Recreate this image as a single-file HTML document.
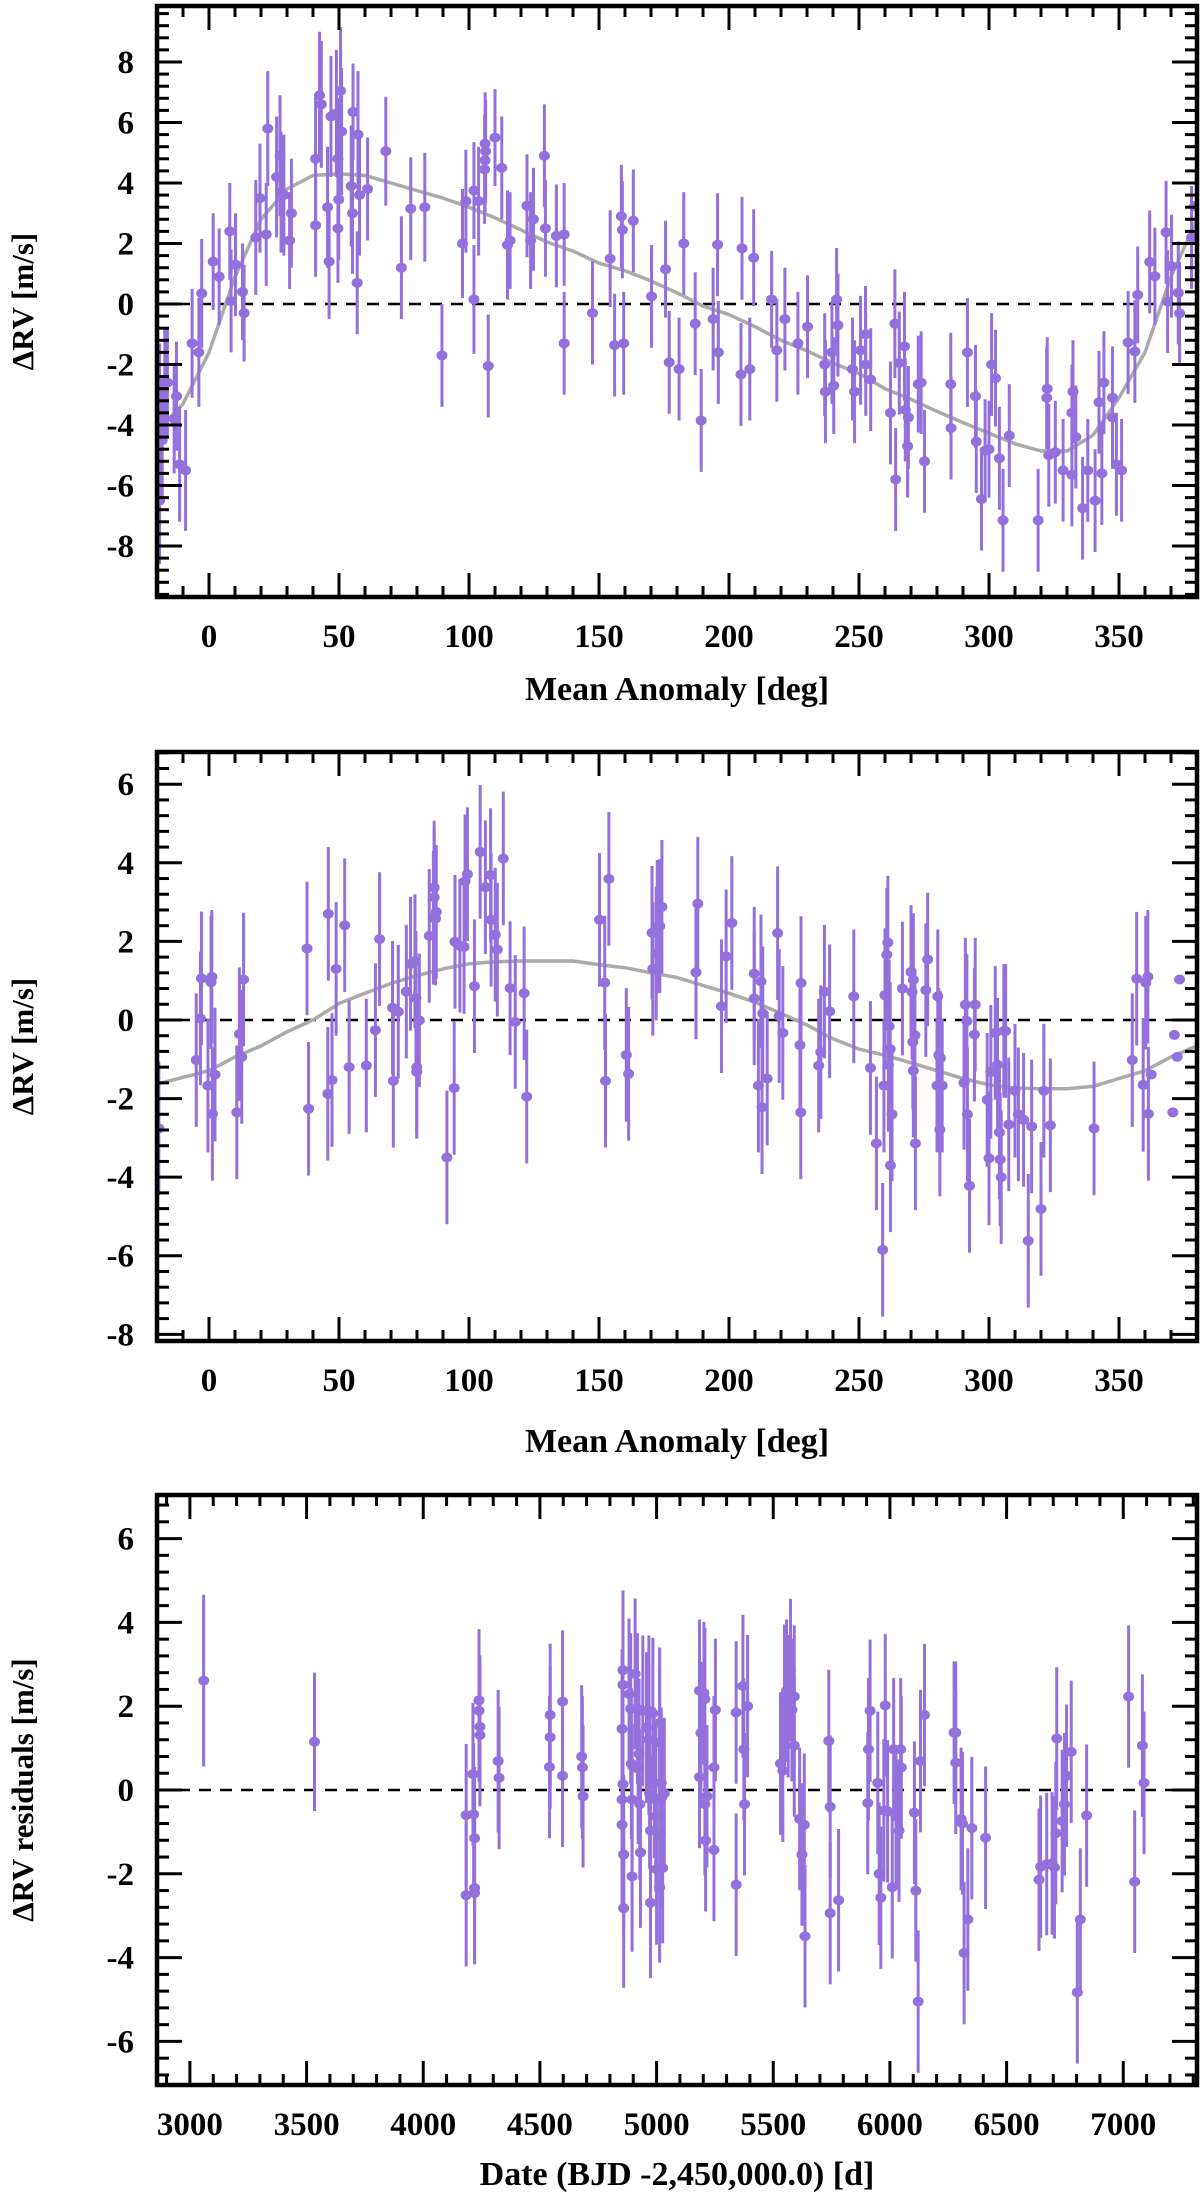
<!DOCTYPE html>
<html><head><meta charset="utf-8"><title>RV plots</title>
<style>
html,body{margin:0;padding:0;background:#fff;}
svg text{font-family:"Liberation Serif",serif;font-weight:bold;fill:#000;}
</style></head>
<body>
<svg id="fig" width="1200" height="2196" viewBox="0 0 1200 2196" xmlns="http://www.w3.org/2000/svg">
<rect x="0" y="0" width="1200" height="2196" fill="#fff"/>
</svg>
<script>
// ---- Panel 1 data: phase-folded RV (planet b) ----
const p1Phase = [-19,-18,-19,-17,-16,-12.5,-13.4,-11.3,-9,-6.5,-3.9,-2.8,1.6,3.9,8,8.5,10.2,12.9,13.5,18,19.6,22.6,22,26,27.3,27.7,28.8,31,31.7,41,41,42.5,43.2,45.6,46.2,46.9,49,49.6,49.9,49.6,50.6,51,54.7,55.2,55.4,57.3,57.9,57,61,68,74,77.6,83,89.6,97.5,98.8,101.9,101.9,103.7,106,106.2,106.4,106.2,107.4,110,112.6,114.8,115.8,122.3,123.7,124.8,129,129.4,133.6,136.6,136.6,147.5,154.3,156,158.6,159,159.5,163.2,170.2,175.6,177,180.8,182.6,187,189.3,193.9,195.6,195.9,204.6,205,208,209.5,216.4,218.4,221.5,226.5,230.2,236.8,237.1,239.6,240.3,241.4,241.9,247.5,248.3,250.6,252.5,252.6,254.5,262.1,263.8,264.1,265.5,267.5,267.8,269,268.7,272.8,273.9,275.2,285.3,285.4,291.7,294.8,295.1,297.1,298.5,300,301,302.5,304,305.4,307.8,318.9,322.2,322.4,323,325.5,328.5,331.9,331.9,332.3,333.4,336,338,340.8,342.3,343.4,344.2,347.5,347.5,349,351,353.5,356.1,357.2,361.8,363.8,368.1,368.7,370.2,372.8,373.3,377.9,379.1];
const p1Rv = [-3.2,-4.5,-6.5,-2.6,-2.6,-3.05,-3.8,-5.3,-5.5,-1.3,-1.6,0.35,1.4,0.9,2.4,0.1,1.3,0.4,-0.3,2.2,3.5,5.8,2.3,4.2,4.9,3.7,3.6,2.1,3.0,2.6,4.8,6.9,6.6,3.2,1.4,6.2,6.3,4.8,3.45,2.5,7.05,5.7,3.9,3.0,6.35,5.6,3.6,0.7,3.8,5.05,1.2,3.15,3.2,-1.7,2.0,3.4,0.15,3.75,3.4,4.45,4.75,5.05,5.3,-2.05,5.5,4.5,1.95,2.1,3.25,2.1,2.8,4.9,2.5,2.25,2.3,-1.3,-0.3,1.5,-1.36,2.9,2.45,-1.3,2.75,0.25,1.15,-1.93,-2.15,2.0,-0.65,-3.85,-0.5,1.96,-1.6,-2.33,1.84,-2.15,1.53,0.15,-1.53,-0.5,-1.3,-0.75,-2.0,-2.9,-1.6,-2.7,0.15,-0.7,-2.15,-2.9,-1.53,-1.0,-2.0,-2.5,-3.6,-0.65,-5.8,-1.95,-1.4,-3.5,-3.75,-4.7,-2.65,-2.6,-5.2,-2.65,-4.1,-1.6,-3.05,-4.55,-6.45,-4.85,-4.8,-2.0,-2.45,-5.1,-7.15,-4.35,-7.15,-3.1,-2.8,-5.0,-4.9,-5.5,-5.65,-3.6,-2.9,-4.4,-6.75,-5.5,-6.5,-3.25,-5.6,-2.6,-3.1,-3.75,-5.3,-5.5,-1.27,-1.57,0.3,1.39,0.92,2.37,0.08,1.25,0.37,-0.31,2.2,3.24];
const p1Err = [1.9,2.0,2.1,1.8,1.8,1.8,1.8,1.9,2.0,1.8,1.8,1.8,1.6,1.6,1.6,1.7,1.7,1.6,1.6,1.9,1.8,1.9,1.7,2.0,2.0,2.0,2.0,1.6,1.8,1.7,2.1,2.1,2.1,2.0,1.9,2.0,2.1,2.0,2.0,1.8,2.1,2.1,2.0,2.0,1.6,2.1,2.0,1.7,1.7,1.8,1.7,1.7,1.8,1.7,1.8,1.7,1.8,1.6,1.8,1.8,1.7,1.7,1.7,1.7,1.6,1.7,1.8,1.6,1.7,1.6,1.7,1.7,1.6,1.7,1.7,1.7,1.7,1.6,1.7,1.7,1.6,1.7,1.7,1.7,1.6,1.7,1.7,1.7,1.7,1.7,1.7,1.7,1.7,1.7,1.7,1.7,1.6,1.6,1.7,1.7,1.7,1.7,1.7,1.7,1.7,1.6,1.7,1.7,1.7,1.7,1.8,1.6,1.7,1.7,1.7,1.8,1.7,1.7,1.8,1.7,1.7,1.7,1.6,1.7,1.7,1.7,1.7,1.8,1.7,1.7,1.7,1.7,1.6,1.7,1.6,1.7,1.7,1.7,1.7,1.7,1.7,1.7,1.7,1.7,1.7,1.6,1.7,1.7,1.7,1.7,1.7,1.7,1.7,1.7,1.7,1.7,1.7,1.7,1.7,1.7,1.6,1.7,1.6,1.7,1.7,1.7,1.7,1.7,1.7];
const p1ModelPhase = [-20,-10,0,10,20,30,40,50,60,70,80,90,100,110,120,130,140,150,160,170,180,190,200,210,220,230,240,250,260,270,280,290,300,310,320,330,340,350,360,370,380];
const p1ModelRv = [-4.2,-3.3,-1.6,0.9,2.8,3.8,4.25,4.3,4.25,4.0,3.75,3.5,3.2,2.85,2.45,2.05,1.75,1.35,1.1,0.76,0.37,-0.07,-0.35,-0.75,-1.2,-1.55,-1.95,-2.3,-2.8,-3.15,-3.55,-3.92,-4.27,-4.62,-4.86,-4.86,-4.34,-3.1,-1.6,0.9,2.8];

// ---- Panel 2 data: phase-folded RV (planet c) ----
const p2Phase = [-19.3,-4.9,-3.3,-2.9,-0.4,0.8,1.1,1.3,2.3,10.7,11.7,12.6,13.3,37.7,38.3,45.9,45.7,47.3,48.9,52.2,53.9,60.5,64,65.6,70.6,70.9,72.8,75.9,77.5,79.2,79.6,80.9,79.9,79.9,84.7,86.3,86.6,86.6,87.4,87.1,91.5,94.3,94.6,96.5,98.1,98.5,99.4,102.1,104.3,106.3,108.3,108.5,110.1,110.9,113.2,115.8,117.8,121.2,122.2,150.2,152.5,152.2,153.8,160.5,161.4,170.4,170.7,172.4,173.4,174.2,172,187.3,188,197.1,198.9,201.1,209.7,209.7,211.3,212.3,212.7,213,214.7,218.7,219.3,220.7,227.7,227.3,227.6,234.5,235.3,236.7,238.7,248,254.4,256.7,259.1,259.6,260,260.7,261.1,261.6,262,261.3,262.1,262.7,266.7,270,270.4,270.9,270.7,271.5,270.9,271.7,275.7,276.4,280.3,280.7,281.3,280,282,281.1,290.4,290.9,291.5,291.7,292.5,294.4,294.7,299.3,300,300.7,302.4,303.3,304,304.3,304.7,305.7,306.4,307.6,310,311.3,313.3,315.1,316.4,320,321.1,323.6,340.4,355.1,356.8,359.3,360.3,361.1,361.3,362.4,370.7,371.3,372.4,373.3];
const p2Rv = [-2.76,-1.02,0.04,1.06,-1.67,0.96,1.1,-2.39,-1.39,-2.35,-0.36,-0.94,1.03,1.82,-2.26,2.7,-1.88,-1.53,1.3,2.41,-1.2,-1.16,-0.26,2.06,0.31,-1.55,0.21,0.72,1.43,1.5,0.56,-0.01,-1.2,-1.32,2.14,2.6,3.12,3.37,2.75,2.58,-3.5,-1.73,1.99,1.89,1.86,3.53,3.71,0.86,4.28,3.38,3.69,2.55,2.17,1.79,4.11,0.81,-0.05,0.68,-1.95,2.55,-1.55,0.95,3.59,-0.89,-1.37,2.22,1.3,2.37,2.39,2.88,1.69,1.21,2.96,0.35,1.62,2.47,1.18,0.55,-1.67,0.98,-2.22,0.17,-1.49,2.21,0.1,-0.33,0.94,-0.64,-2.35,-1.16,-0.82,0.72,0.22,0.6,-1.22,-3.14,-5.85,-1.67,0.63,1.66,1.97,-0.16,-0.74,-1.14,-3.7,-2.4,0.8,1.22,0.71,1.02,-0.56,-0.39,-1.29,-3.14,0.76,1.54,0.6,-0.89,-0.97,-1.67,-1.67,-2.79,-1.6,0.39,-0.03,-2.4,-4.22,-0.37,0.39,-2.03,-3.52,-1.32,-0.33,-1.14,-2.86,-3.55,-4.0,-0.28,-0.28,-2.66,-1.8,-2.4,-2.54,-5.62,-2.71,-4.81,-1.8,-2.68,-2.76,-1.02,1.05,-1.65,0.95,1.1,-2.39,-1.39,-2.35,-0.38,-0.94,1.03];
const p2Err = [1.7,1.7,1.7,1.7,1.7,1.7,1.7,1.7,1.7,1.7,1.7,1.7,1.7,1.7,1.7,1.7,1.7,1.7,1.7,1.7,1.7,1.7,1.7,1.7,1.7,1.7,1.7,1.7,1.7,1.7,1.7,1.7,1.7,1.7,1.7,1.7,1.7,1.7,1.7,1.7,1.7,1.7,1.7,1.7,1.7,1.7,1.7,1.7,1.7,1.7,1.7,1.7,1.7,1.7,1.7,1.7,1.7,1.7,1.7,1.7,1.7,1.7,1.7,1.7,1.7,1.7,1.7,1.7,1.7,1.7,1.7,1.7,1.7,1.7,1.7,1.7,1.7,1.7,1.7,1.7,1.7,1.7,1.7,1.7,1.7,1.7,1.7,1.7,1.7,1.7,1.7,1.7,1.7,1.7,1.7,1.7,1.7,1.7,1.7,1.7,1.7,1.7,1.7,1.7,1.7,1.7,1.7,1.7,1.7,1.7,1.7,1.7,1.7,1.7,1.7,1.7,1.7,1.7,1.7,1.7,1.7,1.7,1.7,1.7,1.7,1.7,1.7,1.7,1.7,1.7,1.7,1.7,1.7,1.7,1.7,1.7,1.7,1.7,1.7,1.7,1.7,1.7,1.7,1.7,1.7,1.7,1.7,1.7,1.7,1.7,1.7,1.7,1.7,1.7,1.7];
const p2ModelPhase = [-20,0,10,20,30,40,50,60,70,80,90,100,110,120,130,140,150,160,170,180,190,200,210,220,230,240,250,260,270,280,290,300,310,320,330,340,350,360,370,380];
const p2ModelRv = [-1.63,-1.29,-0.94,-0.66,-0.3,0,0.42,0.68,0.93,1.13,1.3,1.43,1.48,1.5,1.5,1.5,1.41,1.33,1.2,1.08,0.88,0.68,0.45,0.17,-0.13,-0.48,-0.74,-0.9,-1.09,-1.29,-1.49,-1.65,-1.73,-1.75,-1.75,-1.69,-1.49,-1.29,-0.94,-0.66];

// ---- Panel 3 data: residuals vs date ----
const p3Date = [3059,3534,4184,4184,4213,4216,4220,4220,4220,4239,4239,4243,4243,4321,4325,4544,4544,4541,4597,4597,4679,4682,4685,4856,4856,4852,4856,4852,4852,4859,4859,4882,4889,4892,4895,4895,4908,4918,4921,4925,4928,4931,4941,4957,4967,4967,4970,4974,4974,4984,4990,4997,4997,5000,5013,5013,5020,5023,5016,5013,5026,5033,5184,5190,5184,5203,5207,5207,5210,5216,5246,5246,5252,5341,5341,5370,5374,5377,5390,5531,5541,5548,5557,5564,5574,5580,5590,5590,5613,5623,5633,5636,5738,5744,5744,5780,5905,5908,5915,5948,5954,5961,5974,5980,5990,6010,6016,6026,6039,6046,6049,6105,6111,6121,6131,6148,6275,6282,6282,6305,6311,6318,6334,6351,6410,6639,6646,6672,6695,6705,6711,6715,6738,6748,6757,6777,6803,6816,6843,7023,7049,7082,7089];
const p3Res = [2.61,1.15,-0.6,-2.51,0.38,-0.58,-1.15,-2.34,-2.46,2.14,1.89,1.51,1.31,0.69,0.29,1.79,1.26,0.55,2.11,0.34,0.8,0.54,-0.15,2.86,2.51,1.46,0.14,-0.23,-0.83,-1.54,-2.82,2.29,1.94,0.63,-0.23,-2.06,2.77,1.94,0.51,0.86,-0.34,-1.49,1.89,1.49,1.89,1.2,-0.08,-0.97,-2.69,1.83,0.17,-0.23,-0.63,-1.89,1.6,1.14,0.17,-0.17,-1.03,-2.32,-1.86,-0.08,2.37,1.36,0.31,2.31,2.17,-0.34,-1.2,-0.15,0.54,-1.43,1.91,1.85,-2.26,2.48,0.97,-0.34,2.0,0.63,0.46,2.25,2.37,2.0,2.86,1.91,2.23,1.06,-0.69,-1.54,-0.83,-3.49,1.17,-0.4,-2.94,-2.63,-0.31,0.97,1.89,0.17,-2.0,-2.57,-0.49,2.02,-0.51,-2.32,0.97,-0.63,-0.97,0.97,0.54,-0.54,-2.4,-5.05,0.69,1.79,1.37,1.37,0.65,-0.69,-0.8,-3.89,-3.09,-0.91,-1.14,-2.14,-1.83,-1.77,-1.75,-1.85,-1.03,1.23,-0.74,-0.34,0.34,0.91,-4.83,-3.09,-0.61,2.23,-2.19,1.06,0.17];
const p3Err = [2.05,1.65,1.7,1.7,1.7,1.7,1.7,1.7,1.7,1.7,1.7,1.7,1.7,1.7,1.7,1.7,1.7,1.7,1.7,1.7,1.7,1.7,1.7,1.9,1.9,1.9,1.9,1.9,1.9,1.9,1.9,1.8,1.8,1.8,1.8,1.8,1.8,1.8,1.8,1.8,1.8,1.8,1.8,1.8,1.8,1.8,1.8,1.8,1.8,1.8,1.8,1.8,1.8,1.8,1.8,1.8,1.8,1.8,1.8,1.8,1.8,1.8,1.7,1.7,1.7,1.7,1.7,1.7,1.7,1.7,1.7,1.7,1.7,1.7,1.7,1.7,1.7,1.7,1.7,1.7,1.7,1.7,1.7,1.7,1.7,1.7,1.7,1.7,1.7,1.7,1.7,1.7,1.7,1.7,1.7,1.7,1.7,1.7,1.7,1.7,1.7,1.7,1.7,1.7,1.7,1.7,1.7,1.7,1.7,1.7,1.7,1.7,1.7,1.7,1.7,1.7,1.7,1.7,1.7,1.7,1.7,1.7,1.7,1.7,1.7,1.7,1.7,1.7,1.7,1.7,1.7,1.7,1.7,1.7,1.7,1.7,1.7,1.7,1.7,1.7,1.7,1.7,1.7,1.7];

// ---- Tick label arrays ----
const p1YTicks = [-8,-6,-4,-2,0,2,4,6,8];
const p2YTicks = [-8,-6,-4,-2,0,2,4,6];
const p3YTicks = [-6,-4,-2,0,2,4,6];
const phaseXTicks = [0,50,100,150,200,250,300,350];
const dateXTicks = [3000,3500,4000,4500,5000,5500,6000,6500,7000];

const NS = "http://www.w3.org/2000/svg";
const svg = document.getElementById('fig');
const PURPLE = "#9370db";

function mk(tag, attrs, parent){
  const e = document.createElementNS(NS, tag);
  for (const k in attrs) e.setAttribute(k, attrs[k]);
  (parent||svg).appendChild(e);
  return e;
}

function panel(cfg){
  const {id,L,R,T,B,xmin,xmax,ymin,ymax} = cfg;
  const sx = v => L + (v - xmin) / (xmax - xmin) * (R - L);
  const sy = v => B - (v - ymin) / (ymax - ymin) * (B - T);
  const g = mk('g', {});
  
  
  const clip = mk('clipPath', {id: id + '-clip'}, g);
  mk('rect', {x:L, y:T, width:R-L, height:B-T}, clip);
  const plot = mk('g', {'clip-path': 'url(#' + id + '-clip)'}, g);
  
  

  const zl = mk('line', {x1:L, x2:R, y1:sy(0), y2:sy(0), stroke:'#000', 'stroke-width':2.5, 'stroke-dasharray':'12,9'}, plot);
  
  

  if (cfg.mx) {
    const d = cfg.mx.map((x,i) => (i ? 'L' : 'M') + sx(x).toFixed(1) + ',' + sy(cfg.my[i]).toFixed(1)).join(' ');
    const c = mk('path', {d:d, fill:'none', stroke:'#aaaaaa', 'stroke-width':3.5, 'stroke-linejoin':'round'}, plot);
    
    
  }

  const pts = mk('g', {}, plot);
  
  
  cfg.xs.forEach((x,i) => {
    const y = cfg.ys[i], e = cfg.es[i];
    const eb = mk('line', {x1:sx(x), x2:sx(x), y1:sy(y - e), y2:sy(y + e), stroke:PURPLE, 'stroke-width':3}, pts);
    
    
    const dt = mk('ellipse', {cx:sx(x), cy:sy(y), rx:5.5, ry:5, fill:PURPLE}, pts);
    
    
  });

  const tk = mk('g', {stroke:'#000', 'stroke-width':3}, g);
  
  
  const ystart = Math.ceil(ymin / 0.4 - 1e-6);
  for (let k = ystart; k * 0.4 <= ymax + 1e-6; k++) {
    const v = k * 0.4;
    const major = Math.abs(v / 2 - Math.round(v / 2)) < 1e-6;
    const len = major ? 25 : 12;
    const y = sy(v);
    mk('line', {x1:L, x2:L + len, y1:y, y2:y}, tk);
    mk('line', {x1:R, x2:R - len, y1:y, y2:y}, tk);
  }
  const xs0 = Math.ceil(xmin / cfg.minorX);
  for (let k = xs0; k * cfg.minorX <= xmax; k++) {
    const v = k * cfg.minorX;
    const major = (v % cfg.majorX) === 0;
    const len = major ? 24 : 11;
    const x = sx(v);
    mk('line', {x1:x, x2:x, y1:B, y2:B - len}, tk);
    mk('line', {x1:x, x2:x, y1:T, y2:T + len}, tk);
  }

  const fr = mk('rect', {x:L, y:T, width:R-L, height:B-T, fill:'none', stroke:'#000', 'stroke-width':4.5}, g);
  
  

  cfg.yTicks.forEach(v => {
    const t = mk('text', {x:134, y:sy(v) + 11, 'text-anchor':'end', 'font-size':33}, g);
    t.textContent = String(v);
    
    
  });
  cfg.xTicks.forEach(v => {
    const t = mk('text', {x:sx(v), y:cfg.xLabelY, 'text-anchor':'middle', 'font-size':33}, g);
    t.textContent = String(v);
    
    
  });

  const xt = mk('text', {x:(L + R) / 2, y:cfg.xTitleY, 'text-anchor':'middle', 'font-size':34}, g);
  xt.textContent = cfg.xTitle;
  
  
  const cy = (T + B) / 2;
  const yt = mk('text', {x:0, y:0, 'text-anchor':'middle', 'font-size':31, transform:'translate(33,' + cy + ') rotate(-90)'}, g);
  yt.textContent = cfg.yTitle;
  
  
}

panel({id:'panel-b', L:157, R:1197, T:6, B:597, xmin:-20, xmax:380, ymin:-9.686, ymax:9.851,
  xs:p1Phase, ys:p1Rv, es:p1Err, mx:p1ModelPhase, my:p1ModelRv,
  yTicks:p1YTicks, xTicks:phaseXTicks, minorX:10, majorX:50,
  xLabelY:647, xTitleY:700, xTitle:'Mean Anomaly [deg]', yTitle:'\u0394RV [m/s]'});

panel({id:'panel-c', L:157, R:1197, T:752, B:1341, xmin:-20, xmax:380, ymin:-8.17, ymax:6.82,
  xs:p2Phase, ys:p2Rv, es:p2Err, mx:p2ModelPhase, my:p2ModelRv,
  yTicks:p2YTicks, xTicks:phaseXTicks, minorX:10, majorX:50,
  xLabelY:1391, xTitleY:1452, xTitle:'Mean Anomaly [deg]', yTitle:'\u0394RV [m/s]'});

panel({id:'panel-residuals', L:157, R:1197, T:1495, B:2085, xmin:2859, xmax:7316, ymin:-7.04, ymax:7.04,
  xs:p3Date, ys:p3Res, es:p3Err,
  yTicks:p3YTicks, xTicks:dateXTicks, minorX:100, majorX:500,
  xLabelY:2135, xTitleY:2185, xTitle:'Date (BJD -2,450,000.0) [d]', yTitle:'\u0394RV residuals [m/s]'});
</script>
</body></html>
